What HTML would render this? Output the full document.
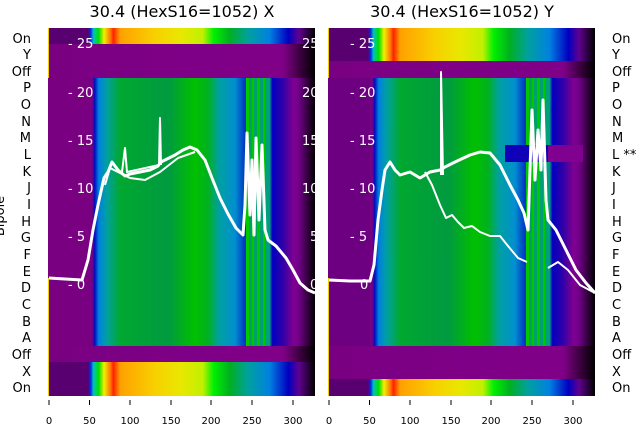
<!DOCTYPE html>
<html><head><meta charset="utf-8"><style>
body{margin:0;background:#fff;width:640px;height:440px;overflow:hidden}
svg text{font-family:"DejaVu Sans","Liberation Sans",sans-serif}
</style></head><body>
<svg width="640" height="440" viewBox="0 0 640 440">
<defs>
<linearGradient id="gL" x1="48" x2="315" gradientUnits="userSpaceOnUse">
<stop offset="0" stop-color="#7a0082"/><stop offset="0.165" stop-color="#7a0082"/>
<stop offset="0.175" stop-color="#0010c0"/><stop offset="0.19" stop-color="#0080e0"/>
<stop offset="0.22" stop-color="#00a0a0"/><stop offset="0.27" stop-color="#00a830"/>
<stop offset="0.45" stop-color="#009a40"/><stop offset="0.55" stop-color="#00c000"/>
<stop offset="0.6" stop-color="#00b020"/><stop offset="0.64" stop-color="#00a0a0"/>
<stop offset="0.7" stop-color="#0090d0"/><stop offset="0.74" stop-color="#0030c0"/>
<stop offset="0.745" stop-color="#00a060"/><stop offset="0.83" stop-color="#00a080"/>
<stop offset="0.84" stop-color="#0000c0"/><stop offset="0.88" stop-color="#3000a8"/>
<stop offset="0.92" stop-color="#800090"/><stop offset="0.94" stop-color="#700088"/><stop offset="1" stop-color="#000"/>
</linearGradient>
<linearGradient id="cL" x1="48" x2="315" gradientUnits="userSpaceOnUse">
<stop offset="0" stop-color="#580070"/><stop offset="0.15" stop-color="#580070"/>
<stop offset="0.16" stop-color="#0030e0"/><stop offset="0.17" stop-color="#00c0c0"/>
<stop offset="0.19" stop-color="#00e000"/><stop offset="0.21" stop-color="#f0f000"/>
<stop offset="0.235" stop-color="#ff7000"/><stop offset="0.245" stop-color="#ff2000"/>
<stop offset="0.27" stop-color="#ffa000"/><stop offset="0.4" stop-color="#f8d000"/>
<stop offset="0.5" stop-color="#e8e800"/><stop offset="0.58" stop-color="#c0f000"/>
<stop offset="0.62" stop-color="#00f000"/><stop offset="0.68" stop-color="#00b020"/>
<stop offset="0.75" stop-color="#00a0a0"/><stop offset="0.83" stop-color="#0080e0"/>
<stop offset="0.9" stop-color="#0000c0"/><stop offset="0.94" stop-color="#600090"/>
<stop offset="1" stop-color="#000"/>
</linearGradient>
<linearGradient id="pL" x1="48" x2="315" gradientUnits="userSpaceOnUse">
<stop offset="0" stop-color="#7a0082"/><stop offset="0.88" stop-color="#800088"/><stop offset="1" stop-color="#000"/>
</linearGradient>
<linearGradient id="gR" href="#gL" gradientTransform="translate(280,0)"/>
<linearGradient id="cR" href="#cL" gradientTransform="translate(280,0)"/>
<linearGradient id="pR" href="#pL" gradientTransform="translate(280,0)"/>
</defs>

<text x="182" y="17" font-size="16" text-anchor="middle">30.4 (HexS16=1052) X</text>
<text x="462" y="17" font-size="16" text-anchor="middle">30.4 (HexS16=1052) Y</text>

<!-- left panel -->
<rect x="48" y="28" width="267" height="368" fill="url(#pL)"/>
<rect x="48" y="28" width="267" height="16" fill="url(#cL)"/>
<rect x="48" y="78" width="267" height="268" fill="url(#gL)"/>
<g fill="#00c800"><rect x="246" y="78" width="3" height="268"/><rect x="252" y="78" width="2" height="268"/><rect x="257" y="78" width="3" height="268"/><rect x="263" y="78" width="2" height="268"/></g>
<rect x="48" y="362" width="267" height="34" fill="url(#cL)"/>
<rect x="48" y="28" width="1" height="50" fill="#f0d000"/>
<rect x="48" y="278" width="1" height="118" fill="#f0d000"/>
<!-- right panel -->
<rect x="328" y="28" width="267" height="368" fill="url(#pR)"/>
<rect x="328" y="28" width="267" height="33" fill="url(#cR)"/>
<rect x="328" y="78" width="267" height="268" fill="url(#gR)"/>
<rect x="328" y="78" width="42" height="268" fill="#6c0080"/>
<g fill="#00c800"><rect x="526" y="78" width="3" height="268"/><rect x="532" y="78" width="2" height="268"/><rect x="537" y="78" width="3" height="268"/><rect x="543" y="78" width="2" height="268"/></g>
<rect x="505" y="145" width="43" height="17" fill="#1000b8"/>
<rect x="548" y="145" width="35" height="17" fill="#800090"/>
<rect x="328" y="379" width="267" height="17" fill="url(#cR)"/>
<rect x="328" y="28" width="1" height="50" fill="#f0d000"/>
<rect x="328" y="278" width="1" height="118" fill="#f0d000"/>

<!-- tick labels inside -->
<g fill="#fff" font-size="13">
<text x="68" y="48">- 25</text><text x="68" y="97">- 20</text><text x="68" y="145">- 15</text>
<text x="68" y="193">- 10</text><text x="68" y="241">- 5</text><text x="68" y="289">- 0</text>
<text x="302" y="48">25</text><text x="302" y="97">20</text><text x="302" y="145">15</text>
<text x="302" y="193">10</text><text x="310" y="241">5</text><text x="310" y="289">0</text>
<text x="350" y="48">- 25</text><text x="350" y="97">- 20</text><text x="350" y="145">- 15</text>
<text x="350" y="193">- 10</text><text x="350" y="241">- 5</text><text x="360" y="289">0</text>
</g>

<!-- lines -->
<g fill="none" stroke="#fff" stroke-linejoin="round">
<polyline stroke-width="3" points="49,278 65,279 82,280 88,260 93,230 98,205 104,178 108,172 112,162 118,170 125,176 130,174 140,172 150,170 158,166 161,162 165,160 175,155 183,150 190,147 197,150 205,160 212,178 220,198 228,214 236,228 243,235 245,205 247,133 250,215 252,160 254,235 256,138 259,220 262,145 265,230 268,240 276,246 286,258 293,270 300,283 308,290 315,293"/>
<polyline stroke-width="2" points="122,172 125,148 127,172 159,165 160,118 161,165"/>
<polyline stroke-width="2" points="105,185 110,168 130,178 145,180 160,172 178,158 195,152"/>
<polyline stroke-width="3" points="329,280 350,281 370,281 374,265 378,220 382,190 385,170 390,162 395,170 400,175 410,172 420,178 430,172 440,170 445,167 455,162 470,155 480,152 490,153 500,165 510,185 518,200 524,213 528,230 532,110 535,180 538,130 541,170 543,100 546,200 548,220 556,230 566,250 576,270 586,283 595,293"/>
<polyline stroke-width="2" points="441,175 441,72 443,175"/>
<polyline stroke-width="2" points="425,172 432,185 440,205 446,218 452,215 458,222 464,228 472,226 480,232 490,236 500,236 508,246 518,258 527,262"/>
<polyline stroke-width="2" points="548,268 558,262 568,270 580,285 595,293"/>
</g>

<!-- row labels -->
<g font-size="13" fill="#000">
<g text-anchor="end">
<text x="31" y="43">On</text><text x="31" y="59">Y</text><text x="31" y="76">Off</text>
<text x="31" y="92">P</text><text x="31" y="109">O</text><text x="31" y="126">N</text>
<text x="31" y="142">M</text><text x="31" y="159">L</text><text x="31" y="176">K</text>
<text x="31" y="192">J</text><text x="31" y="209">I</text><text x="31" y="226">H</text>
<text x="31" y="242">G</text><text x="31" y="259">F</text><text x="31" y="276">E</text>
<text x="31" y="292">D</text><text x="31" y="309">C</text><text x="31" y="326">B</text>
<text x="31" y="342">A</text><text x="31" y="359">Off</text><text x="31" y="376">X</text>
<text x="31" y="392">On</text>
</g>
<g>
<text x="612" y="43">On</text><text x="612" y="59">Y</text><text x="612" y="76">Off</text>
<text x="612" y="92">P</text><text x="612" y="109">O</text><text x="612" y="126">N</text>
<text x="612" y="142">M</text><text x="612" y="159">L **</text><text x="612" y="176">K</text>
<text x="612" y="192">J</text><text x="612" y="209">I</text><text x="612" y="226">H</text>
<text x="612" y="242">G</text><text x="612" y="259">F</text><text x="612" y="276">E</text>
<text x="612" y="292">D</text><text x="612" y="309">C</text><text x="612" y="326">B</text>
<text x="612" y="342">A</text><text x="612" y="359">Off</text><text x="612" y="376">X</text>
<text x="612" y="392">On</text>
</g>
<text transform="translate(4,216) rotate(-90)" font-size="13" text-anchor="middle">Bipole</text>
</g>

<!-- x ticks -->
<g stroke="#000" stroke-width="1">
<line x1="49" y1="400" x2="49" y2="405"/><line x1="89.5" y1="400" x2="89.5" y2="405"/><line x1="130" y1="400" x2="130" y2="405"/><line x1="171" y1="400" x2="171" y2="405"/><line x1="211" y1="400" x2="211" y2="405"/><line x1="252" y1="400" x2="252" y2="405"/><line x1="293" y1="400" x2="293" y2="405"/>
<line x1="329" y1="400" x2="329" y2="405"/><line x1="369.5" y1="400" x2="369.5" y2="405"/><line x1="410" y1="400" x2="410" y2="405"/><line x1="451" y1="400" x2="451" y2="405"/><line x1="491" y1="400" x2="491" y2="405"/><line x1="532" y1="400" x2="532" y2="405"/><line x1="573" y1="400" x2="573" y2="405"/>
</g>
<g font-size="10" text-anchor="middle">
<text x="49" y="424">0</text><text x="89.5" y="424">50</text><text x="130" y="424">100</text><text x="171" y="424">150</text><text x="211" y="424">200</text><text x="252" y="424">250</text><text x="293" y="424">300</text>
<text x="329" y="424">0</text><text x="369.5" y="424">50</text><text x="410" y="424">100</text><text x="451" y="424">150</text><text x="491" y="424">200</text><text x="532" y="424">250</text><text x="573" y="424">300</text>
</g>
</svg>
</body></html>
